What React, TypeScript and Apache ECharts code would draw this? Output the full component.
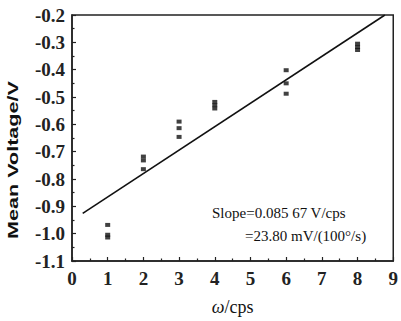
import React, { useEffect, useRef } from "react";
import * as echarts from "echarts";

const xTicks = [0, 1, 2, 3, 4, 5, 6, 7, 8, 9];
const yMin = -1.1;
const yMax = -0.2;
const pointsX = [1, 1, 1, 2, 2, 2, 3, 3, 3, 4, 4, 4, 6, 6, 6, 8, 8, 8];
const pointsY = [
  -0.968, -1.004, -1.014,
  -0.718, -0.732, -0.764,
  -0.59, -0.614, -0.646,
  -0.518, -0.53, -0.542,
  -0.402, -0.45, -0.488,
  -0.305, -0.317, -0.328,
];
const fitX = [0.3, 8.766];
const fitY = [-0.926, -0.2];
const slopeLine1 = "Slope=0.085 67 V/cps";
const slopeLine2 = "=23.80 mV/(100°/s)";
const yName = "Mean Voltage/V";

export default function App() {
  const ref = useRef<HTMLDivElement>(null);
  useEffect(() => {
    document.body.style.margin = "0";
    const chart = echarts.init(ref.current!, null, { renderer: "svg" });
    const serif = "Liberation Serif";
    chart.setOption({
      animation: false,
      backgroundColor: "#fff",
      grid: {
        left: 72,
        top: 15,
        right: 3,
        bottom: 54,
        show: true,
        borderColor: "#222",
        borderWidth: 1.5,
        backgroundColor: "transparent",
      },
      xAxis: {
        type: "value",
        min: xTicks[0],
        max: xTicks[xTicks.length - 1],
        interval: 1,
        name: "{i|ω}/cps",
        nameLocation: "middle",
        nameGap: 37,
        nameTextStyle: {
          fontFamily: serif,
          fontSize: 18,
          color: "#111",
          rich: { i: { fontStyle: "italic", fontFamily: serif, fontSize: 18, color: "#111" } },
        },
        axisLine: { show: true, lineStyle: { color: "#222", width: 1.5 } },
        axisTick: { show: true, inside: true, length: 4, lineStyle: { color: "#222", width: 1.2 } },
        minorTick: { show: true, splitNumber: 2, length: 2.5, lineStyle: { color: "#222", width: 1.2 } },
        splitLine: { show: false },
        axisLabel: {
          fontFamily: serif,
          fontSize: 19,
          fontWeight: "bold",
          color: "#222",
          margin: 8,
          showMinLabel: true,
          showMaxLabel: true,
        },
      },
      yAxis: {
        type: "value",
        min: yMin,
        max: yMax,
        interval: 0.1,
        axisLine: { show: true, lineStyle: { color: "#222", width: 1.5 } },
        axisTick: { show: true, inside: true, length: 4, lineStyle: { color: "#222", width: 1.2 } },
        minorTick: { show: true, splitNumber: 2, length: 2.5, lineStyle: { color: "#222", width: 1.2 } },
        splitLine: { show: false },
        axisLabel: {
          fontFamily: serif,
          fontSize: 19,
          fontWeight: "bold",
          color: "#222",
          margin: 7,
          formatter: (v: number) => v.toFixed(1),
        },
      },
      graphic: [
        {
          type: "text",
          x: 13,
          y: 160,
          rotation: Math.PI / 2,
          scaleX: 1.44,
          style: {
            text: yName,
            font: "bold 15px 'Liberation Sans'",
            fill: "#111",
            align: "center",
            verticalAlign: "middle",
          },
        },
        {
          type: "text",
          x: 212,
          y: 213,
          style: {
            text: slopeLine1,
            font: "15px 'Liberation Serif'",
            fill: "#111",
            align: "left",
            verticalAlign: "middle",
          },
        },
        {
          type: "text",
          x: 245,
          y: 236,
          style: {
            text: slopeLine2,
            font: "15px 'Liberation Serif'",
            fill: "#111",
            align: "left",
            verticalAlign: "middle",
          },
        },
      ],
      series: [
        {
          type: "line",
          data: fitX.map((x, i) => [x, fitY[i]]),
          showSymbol: false,
          symbol: "none",
          lineStyle: { color: "#111", width: 1.6 },
          z: 2,
        },
        {
          type: "scatter",
          data: pointsX.map((x, i) => [x, pointsY[i]]),
          symbol: "rect",
          symbolSize: [5, 4],
          itemStyle: { color: "#111" },
          z: 3,
        },
      ],
    });
    return () => chart.dispose();
  }, []);
  return (
    <div
      ref={ref}
      style={{ position: "absolute", left: 0, top: 0, width: 401, height: 321 }}
    />
  );
}
